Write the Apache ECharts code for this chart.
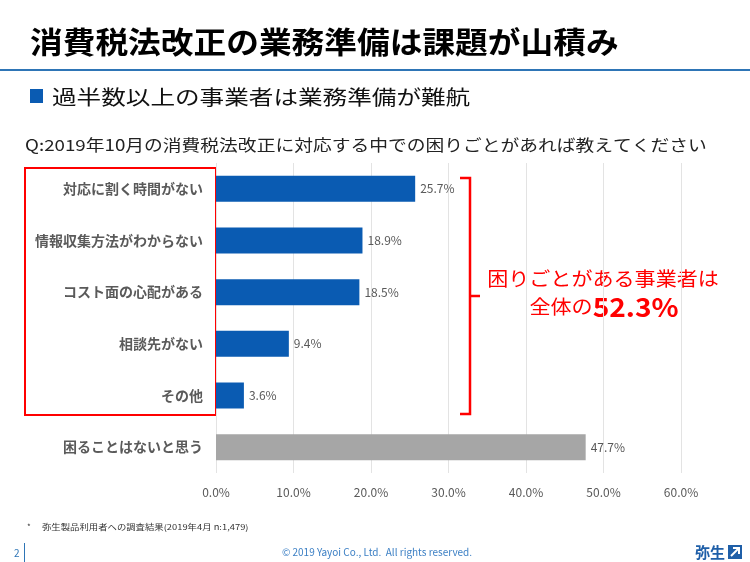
<!DOCTYPE html>
<html>
<head>
<meta charset="utf-8">
<script src="https://cdn.jsdelivr.net/npm/echarts@6/dist/echarts.min.js"></script>
<style>
  html, body { margin: 0; padding: 0; background: #fff; }
  #chart { width: 750px; height: 562px; }
</style>
</head>
<body>
<div id="chart"></div>
<script>
// data
var categories = ['対応に割く時間がない', '情報収集方法がわからない', 'コスト面の心配がある', '相談先がない', 'その他', '困ることはないと思う']
var values = [25.7, 18.9, 18.5, 9.4, 3.6, 47.7]
var barColors = ['#0a5bb2', '#0a5bb2', '#0a5bb2', '#0a5bb2', '#0a5bb2', '#a6a6a6']
var xTicks = [0, 10, 20, 30, 40, 50, 60]

var FONT = '"Noto Sans CJK JP", "Noto Sans", sans-serif'
var chart = echarts.init(document.getElementById('chart'))

chart.setOption({
  backgroundColor: '#fff',
  animation: false,
  grid: { left: 216, right: 69, top: 163, bottom: 89 },
  xAxis: {
    type: 'value',
    min: xTicks[0],
    max: xTicks[xTicks.length - 1],
    interval: 10,
    axisLine: { show: false },
    axisTick: { show: false },
    splitLine: { lineStyle: { color: '#e3e3e3' } },
    axisLabel: {
      margin: 13,
      color: '#595959',
      fontSize: 12,
      fontFamily: FONT,
      formatter: function (v) { return v.toFixed(1) + '%' }
    }
  },
  yAxis: {
    type: 'category',
    inverse: true,
    data: categories,
    axisLine: { show: false },
    axisTick: { show: false },
    axisLabel: {
      margin: 13,
      color: '#5a5a5a',
      fontSize: 14,
      fontWeight: 'bold',
      fontFamily: FONT
    }
  },
  series: [{
    type: 'bar',
    barWidth: 26,
    data: values.map(function (v, i) {
      return { value: v, itemStyle: { color: barColors[i] } }
    }),
    label: {
      show: true,
      position: 'right',
      distance: 5,
      color: '#595959',
      fontSize: 12,
      fontFamily: FONT,
      formatter: function (p) { return p.value.toFixed(1) + '%' }
    }
  }],
  graphic: [
    // title
    { type: 'text', x: 30, y: 42, scaleX: 1.09, style: { text: '消費税法改正の業務準備は課題が山積み', font: 'bold 30px ' + FONT, fill: '#000', verticalAlign: 'middle' } },
    { type: 'rect', shape: { x: 0, y: 69, width: 750, height: 2 }, style: { fill: '#2e75b6' } },
    // subtitle
    { type: 'rect', shape: { x: 30, y: 89, width: 13, height: 14 }, style: { fill: '#0a5bb2' } },
    { type: 'text', x: 52, y: 97, scaleX: 1.23, style: { text: '過半数以上の事業者は業務準備が難航', font: '20px ' + FONT, fill: '#111', verticalAlign: 'middle' } },
    // question
    { type: 'text', x: 25, y: 145, scaleX: 1.21, style: { text: 'Q:2019年10月の消費税法改正に対応する中での困りごとがあれば教えてください', font: '15.5px ' + FONT, fill: '#222', verticalAlign: 'middle' } },
    // red box around categories
    { type: 'rect', shape: { x: 25, y: 168, width: 191, height: 247 }, style: { fill: null, stroke: '#ff0000', lineWidth: 2 } },
    // bracket
    { type: 'polyline', shape: { points: [[460, 178], [470, 178], [470, 414], [460, 414]] }, style: { fill: null, stroke: '#ff0000', lineWidth: 2.5 } },
    { type: 'line', shape: { x1: 470, y1: 296, x2: 480, y2: 296 }, style: { stroke: '#ff0000', lineWidth: 2.5 } },
    { type: 'text', x: 603, y: 279, scaleX: 1.08, style: { text: '困りごとがある事業者は', font: '19.5px ' + FONT, fill: '#ff0000', align: 'center', verticalAlign: 'middle' } },
    {
      type: 'text', x: 604, y: 307, scaleX: 1.08,
      style: {
        text: '{a|全体の}{b|52.3%}',
        align: 'center', verticalAlign: 'middle',
        rich: {
          a: { fontSize: 19.5, fontFamily: FONT, fill: '#ff0000' },
          b: { fontSize: 26, fontWeight: 'bold', fontFamily: FONT, fill: '#ff0000' }
        }
      }
    },
    // footnote
    { type: 'text', x: 27, y: 527, style: { text: '*', font: '8px ' + FONT, fill: '#333', verticalAlign: 'middle' } },
    { type: 'text', x: 42, y: 527, scaleX: 1.17, style: { text: '弥生製品利用者への調査結果(2019年4月 n:1,479)', font: '8px ' + FONT, fill: '#333', verticalAlign: 'middle' } },
    // footer
    { type: 'text', x: 14, y: 553, style: { text: '2', font: '10px ' + FONT, fill: '#2e75b6', verticalAlign: 'middle' } },
    { type: 'rect', shape: { x: 24, y: 543, width: 1, height: 19 }, style: { fill: '#2e75b6' } },
    { type: 'text', x: 377, y: 552, style: { text: '© 2019 Yayoi Co., Ltd.  All rights reserved.', font: '10px ' + FONT, fill: '#3b7fc4', align: 'center', verticalAlign: 'middle' } },
    { type: 'text', x: 695, y: 552, style: { text: '弥生', font: 'bold 15px ' + FONT, fill: '#1f5fa8', verticalAlign: 'middle' } },
    { type: 'rect', shape: { x: 728, y: 545, width: 14, height: 14 }, style: { fill: '#1f5fa8' } },
    { type: 'polyline', shape: { points: [[731, 556], [739, 548]] }, style: { stroke: '#fff', lineWidth: 2 } },
    { type: 'polyline', shape: { points: [[733, 548], [739, 548], [739, 554]] }, style: { stroke: '#fff', lineWidth: 2, fill: null } }
  ]
})
</script>
</body>
</html>
